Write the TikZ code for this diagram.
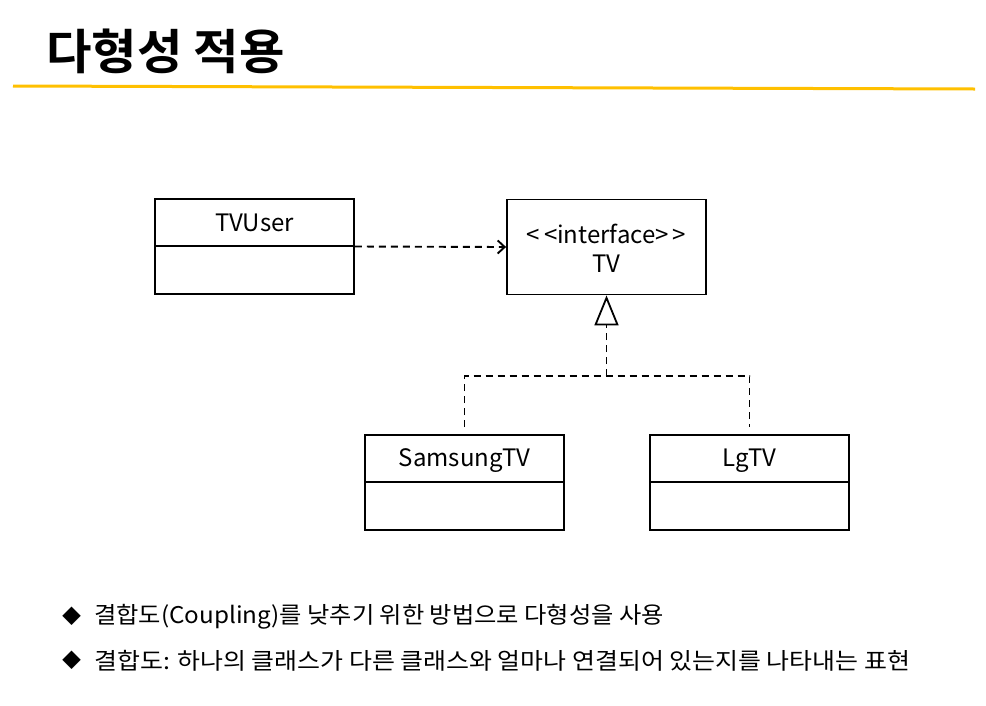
\documentclass[tikz,border=0pt]{standalone}
\usepackage{fontspec}
\setmainfont{Noto Sans CJK KR}[BoldFont={Noto Sans CJK KR Bold}]
\usetikzlibrary{arrows.meta}
\definecolor{ruleyellow}{HTML}{FFC000}
\tikzset{
  cls/.style={draw, line width=1.8pt, minimum width=199pt, minimum height=95pt, inner sep=0pt},
  clsname/.style={font=\fontsize{24}{28}\selectfont, inner sep=0pt},
  divider/.style={line width=1.8pt},
  dep/.style={line width=1.9pt, dash pattern=on 7pt off 5pt, -{Straight Barb[length=7pt,width=13pt,line width=1.9pt]}},
  real/.style={line width=1.9pt, dash pattern=on 7pt off 5pt},
  realtip/.style={-{Triangle[open,length=30pt,width=24pt,line width=1.8pt]}},
  bullettext/.style={anchor=west, font=\fontsize{23}{27}\selectfont, inner sep=0pt},
  bulletmark/.style={font=\fontsize{19}{21}\selectfont, inner sep=0pt},
}
\begin{document}
\begin{tikzpicture}[x=1pt,y=-1pt]
\useasboundingbox (0,0) rectangle (986,705);
% title
\node[anchor=west, inner sep=0pt, font=\bfseries\fontsize{48}{52}\selectfont] (title) at (46,51) {\scalebox{1.03}[1]{다형성 적용}};
\draw[ruleyellow, line width=3pt] (13,86) -- (975,89);
% classes
\node[cls] (user) at (254.5,246.5) {};
\node[clsname] (username) at (254.5,223) {TVUser};
\draw[divider] (155,246) -- (354,246);
\node[cls] (tv) at (606.5,247) {};
\node[clsname] (tvst) at (606.5,234) {{<}\,{<}interface{>}\,{>}};
\node[clsname] (tvname) at (606.5,264) {TV};
\node[cls] (sam) at (464.5,482.5) {};
\node[clsname] (samname) at (464.5,461) {SamsungTV};
\draw[divider] (365,482) -- (564,482);
\node[cls] (lg) at (749.5,482.5) {};
\node[clsname] (lgname) at (749.5,461) {LgTV};
\draw[divider] (650,482) -- (849,482);
% connectors
\draw[dep] (user.east) -- (tv.west);
\coordinate (j) at (606.5,376);
\coordinate (samtop) at (464.5,427);
\coordinate (lgtop) at (749.5,427);
\draw[real] (samtop) |- (j) -| (lgtop);
\draw[real, realtip] (j) -- (tv.south);
% bullets
\node[bulletmark] (b1) at (72,616) {◆};
\node[bullettext] (t1) at (94,617) {\scalebox{1.054}[1]{결합도(Coupling)를 낮추기 위한 방법으로 다형성을 사용}};
\node[bulletmark] (b2) at (72,660) {◆};
\node[bullettext] (t2) at (94,661) {\scalebox{1.084}[1]{결합도: 하나의 클래스가 다른 클래스와 얼마나 연결되어 있는지를 나타내는 표현}};
\end{tikzpicture}
\end{document}
